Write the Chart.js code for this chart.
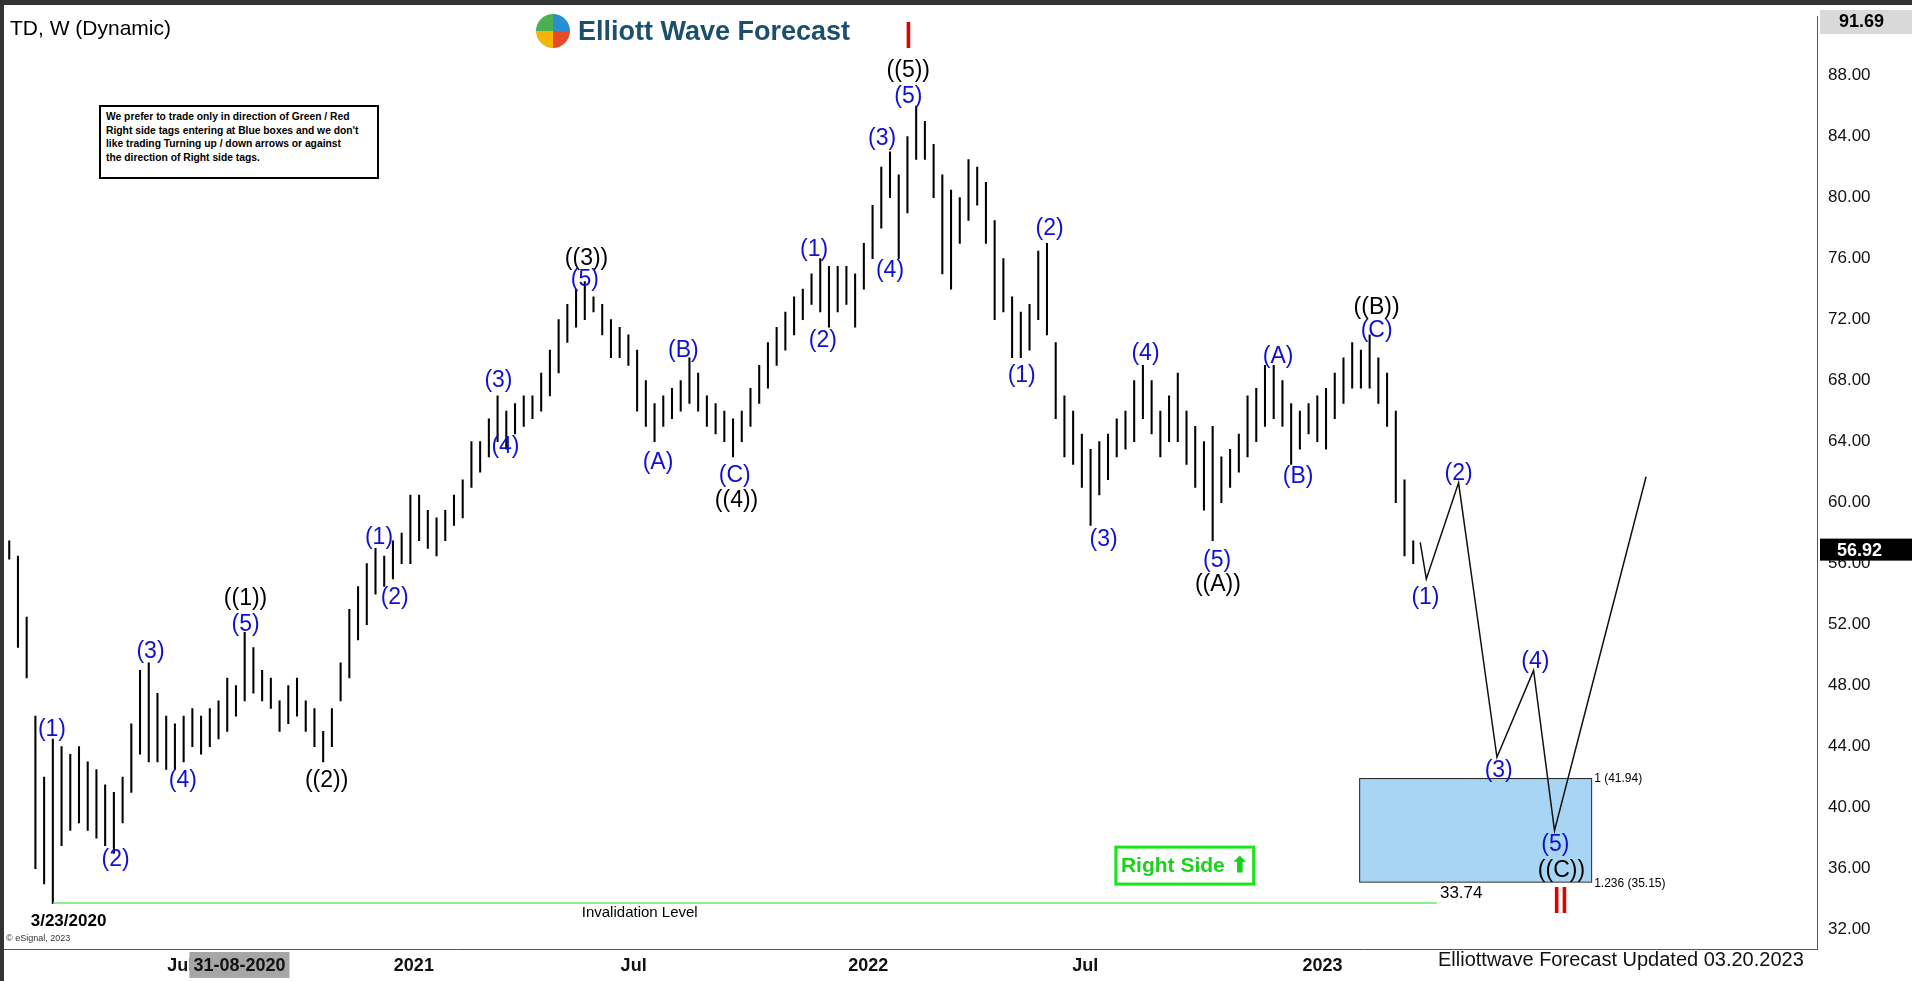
<!DOCTYPE html>
<html><head><meta charset="utf-8">
<script src="https://cdn.jsdelivr.net/npm/chart.js@4.4.1/dist/chart.umd.min.js"></script>
<style>
html,body{margin:0;padding:0;background:#fff;overflow:hidden}
#wrap{position:relative;width:1912px;height:981px}
canvas{display:block}
</style></head><body>
<div id="wrap"><canvas id="c" width="1912" height="981"></canvas></div>
<script>
// ---- data ----
const highs = [57.5,56.5,52.5,46.0,42.0,44.5,44.0,43.5,44.0,43.0,
42.5,41.5,41.0,42.0,45.5,49.0,49.5,47.5,46.0,45.5,
46.0,46.5,46.0,46.5,47.0,48.5,48.0,51.5,50.5,49.0,
48.5,47.0,48.0,48.5,47.0,46.5,45.0,46.5,49.5,53.0,
54.5,56.0,57.0,56.5,57.5,58.0,60.5,60.5,59.5,59.0,
59.5,60.5,61.5,64.0,64.0,65.5,67.0,66.0,66.5,67.0,
67.0,68.5,70.0,72.0,73.0,74.0,74.5,73.5,73.0,72.0,
71.5,71.0,70.0,68.0,66.5,67.0,67.5,68.0,69.5,68.5,
67.0,66.5,66.0,65.5,66.0,67.5,69.0,70.5,71.5,72.5,
73.5,74.0,75.0,76.0,75.5,75.5,75.5,75.0,77.0,79.5,
82.0,83.0,81.5,84.0,86.0,85.0,83.5,81.5,80.5,80.0,
82.5,82.0,81.0,78.5,76.0,73.5,72.5,73.0,76.5,77.0,
70.5,67.0,66.0,64.5,63.5,64.0,64.5,65.5,66.0,68.0,
69.0,68.0,66.0,67.0,68.5,66.0,65.0,64.0,65.0,63.0,
63.5,64.5,67.0,67.5,69.0,69.0,68.0,66.5,66.0,66.5,
67.0,67.5,68.5,69.5,70.5,70.0,71.0,69.5,68.5,66.0,61.5,57.5];
const lows = [56.3,50.5,48.5,36.0,35.0,33.7,37.5,38.5,39.0,38.5,
38.0,37.5,37.0,39.0,41.0,43.5,43.0,43.0,42.5,42.5,
43.0,44.0,43.5,44.0,44.5,45.0,46.0,47.0,47.5,47.0,
46.5,45.0,45.5,46.0,45.0,44.0,43.0,44.0,47.0,48.5,
51.0,52.0,54.0,54.5,55.0,56.0,56.0,57.5,57.0,56.5,
57.5,58.5,59.0,61.0,62.0,63.0,64.0,63.5,64.5,65.0,
65.5,66.0,67.0,68.5,70.5,71.5,72.0,72.5,71.0,69.5,
69.5,69.0,66.0,65.0,64.0,65.0,65.5,66.0,66.5,66.0,
65.0,64.5,64.0,63.0,64.0,65.0,66.5,67.5,69.0,70.0,
71.0,72.0,73.0,72.5,71.5,72.5,73.0,71.5,74.0,76.0,
78.0,80.0,76.0,79.0,82.5,82.5,80.0,75.0,74.0,77.0,
78.5,79.5,77.0,72.0,72.5,69.5,69.5,70.0,72.0,71.0,
65.5,63.0,62.5,61.0,58.5,60.5,61.5,63.0,63.5,64.0,
65.5,64.5,63.0,64.0,64.0,62.5,61.0,59.5,57.5,60.0,
61.0,62.0,63.0,64.0,65.0,65.5,65.0,62.5,63.5,64.5,
64.0,63.5,65.5,66.5,67.5,67.5,67.5,66.5,65.0,60.0,56.5,56.0];
const projX = [161.8,162.5,166.2,170.6,174.8,177.2,187.7];
const projY = [57.4,55.0,61.3,43.3,49.0,38.5,61.7];
const yTicks = [32,36,40,44,48,52,56,60,64,68,72,76,80,84,88];
const xTickPos = [19.6,26.4,46.4,71.6,98.5,123.4,150.6];
const xTickText = ["Jul","31-08-2020","2021","Jul","2022","Jul","2023"];
const waveX = [4.9,12.2,16.2,19.9,27.1,27.1,36.4,42.4,44.2,56.1,56.9,66.2,66.0,74.4,77.3,83.2,83.4,92.3,93.3,100.1,101.0,103.1,103.1,116.1,119.3,125.5,130.3,138.5,138.6,145.5,147.8,156.8,156.8,162.4,166.2,170.8,175.0,177.3,178.0];
const waveY = [45.1,36.6,50.2,41.8,53.7,52.0,41.8,57.7,53.8,68.0,63.7,76.0,74.6,62.6,70.0,61.8,60.1,76.6,70.6,83.9,75.2,86.6,88.3,68.3,78.0,57.6,69.8,56.2,54.6,69.6,61.7,72.8,71.3,53.8,61.9,42.4,49.6,37.6,35.9];
const waveText = ["(1)","(2)","(3)","(4)","((1))","(5)","((2))","(1)","(2)","(3)","(4)","((3))","(5)","(A)","(B)","(C)","((4))","(1)","(2)","(3)","(4)","(5)","((5))","(1)","(2)","(3)","(4)","(5)","((A))","(A)","(B)","((B))","(C)","(1)","(2)","(3)","(4)","(5)","((C))"];
const boxTop = 41.94, boxBottom = 35.15, boxX0 = 154.8, boxX1 = 181.4;
const invalidation = 33.74, invX0 = 5, invX1 = 163.7;
const lastPrice = 56.92, topPrice = 91.69;

const bars = highs.map((h,i)=>({x:i, y:[lows[i],h]}));
const proj = projX.map((x,i)=>({x, y:projY[i]}));

const overlay = {
  id:'overlay',
  beforeDatasetsDraw(chart){
    const {ctx, scales:{x,y}} = chart;
    ctx.save();
    ctx.fillStyle = '#a9d5f5';
    ctx.strokeStyle = '#222';
    ctx.lineWidth = 1;
    const bx0=x.getPixelForValue(boxX0), bx1=x.getPixelForValue(boxX1);
    const by0=y.getPixelForValue(boxTop), by1=y.getPixelForValue(boxBottom);
    ctx.fillRect(bx0,by0,bx1-bx0,by1-by0);
    ctx.strokeRect(bx0+0.5,by0+0.5,bx1-bx0,by1-by0);
    ctx.restore();
  },
  afterDatasetsDraw(chart){
    const {ctx, scales:{x,y}, chartArea:ca} = chart;
    ctx.save();
    ctx.textAlign='center'; ctx.textBaseline='middle';
    ctx.font = '23px "Liberation Sans", Arial, sans-serif';
    waveText.forEach((t,i)=>{
      ctx.fillStyle = t.startsWith('((') ? '#000' : '#1010d0';
      ctx.fillText(t, x.getPixelForValue(waveX[i]), y.getPixelForValue(waveY[i]));
    });
    ctx.fillStyle='#000'; ctx.textAlign='left';
    ctx.font='12px "Liberation Sans", Arial, sans-serif';
    ctx.fillText('1 (41.94)', x.getPixelForValue(boxX1)+3, y.getPixelForValue(boxTop)+1);
    ctx.fillText('1.236 (35.15)', x.getPixelForValue(boxX1)+3, y.getPixelForValue(boxBottom)+2);
    ctx.textAlign='center';
    ctx.font='15px "Liberation Sans", Arial, sans-serif';
    ctx.fillText('Invalidation Level', x.getPixelForValue(72.3), y.getPixelForValue(invalidation)+10);
    ctx.font='17px "Liberation Sans", Arial, sans-serif';
    ctx.fillText('33.74', x.getPixelForValue(166.5), y.getPixelForValue(invalidation)-10);
    ctx.font='bold 17px "Liberation Sans", Arial, sans-serif';
    ctx.fillText('3/23/2020', x.getPixelForValue(6.8), y.getPixelForValue(invalidation)+18);
    ctx.fillStyle='#e00000';
    ctx.font='bold 28px "Liberation Sans", Arial, sans-serif';
    ctx.fillText('|', x.getPixelForValue(103.1), 34);
    ctx.fillText('||', x.getPixelForValue(177.9), y.getPixelForValue(invalidation)-4);
    const rx0=x.getPixelForValue(126.9), rx1=x.getPixelForValue(142.7);
    const ry=y.getPixelForValue(invalidation)-56;
    ctx.strokeStyle='#19e619'; ctx.lineWidth=3;
    ctx.strokeRect(rx0,ry,rx1-rx0,37);
    ctx.fillStyle='#19d219';
    ctx.font='bold 21px "Liberation Sans", Arial, sans-serif';
    ctx.fillText('Right Side \u2B06', (rx0+rx1)/2, ry+19);
    const by = ca.bottom + 17;
    ctx.font='bold 18px "Liberation Sans", Arial, sans-serif';
    xTickPos.forEach((p,i)=>{
      const px=x.getPixelForValue(p);
      if(xTickText[i].includes('-')){
        const w=ctx.measureText(xTickText[i]).width;
        ctx.fillStyle='#a6a6a6'; ctx.fillRect(px-w/2-4, ca.bottom+3, w+8, 26);
      }
      ctx.fillStyle='#111'; ctx.fillText(xTickText[i], px, by);
    });
    ctx.textAlign='left';
    const ly = y.getPixelForValue(lastPrice);
    ctx.fillStyle='#000'; ctx.fillRect(ca.right+3, ly-11, 92, 22);
    ctx.fillStyle='#fff'; ctx.font='bold 18px "Liberation Sans", Arial, sans-serif';
    ctx.fillText(lastPrice.toFixed(2), ca.right+20, ly+1);
    ctx.fillStyle='#d9d9d9'; ctx.fillRect(ca.right+3, 10, 92, 24);
    ctx.fillStyle='#000'; ctx.fillText(topPrice.toFixed(2), ca.right+22, 22);
    ctx.restore();
  }
};

new Chart(document.getElementById('c'), {
  type:'bar',
  data:{datasets:[
    {type:'bar', data:bars, backgroundColor:'#000', barThickness:1.4, grouped:false, order:2},
    {type:'line', data:proj, borderColor:'#111', borderWidth:1.5, pointRadius:0, tension:0, order:1},
    {type:'line', data:[{x:invX0,y:invalidation},{x:invX1,y:invalidation}], borderColor:'#6be66b', borderWidth:1.5, pointRadius:0, order:1}
  ]},
  options:{
    responsive:false, animation:false,
    layout:{padding:{left:4,top:10,right:0,bottom:0}},
    plugins:{legend:{display:false},tooltip:{enabled:false}},
    scales:{
      x:{type:'linear', offset:false, min:-0.6, max:207.3, grid:{display:false, drawTicks:false, offset:false},
         border:{display:true,color:'#555'},
         ticks:{display:false},
         afterFit(s){s.height=32;}},
      y:{position:'right', min:30.73, max:91.9,
         grid:{display:false, drawTicks:true, tickLength:5, color:'#555'},
         border:{display:true,color:'#555'},
         afterBuildTicks(s){s.ticks=yTicks.map(v=>({value:v}));},
         ticks:{color:'#111', font:{family:'"Liberation Sans", Arial', size:17}, padding:6,
                callback:v=>Number(v).toFixed(2)},
         afterFit(s){s.width=95;}}
    }
  },
  plugins:[overlay]
});
</script>
<div style="position:absolute;left:0;top:0;width:1912px;height:5px;background:#333"></div>
<div style="position:absolute;left:0;top:0;width:4px;height:981px;background:#333"></div>
<div style="position:absolute;left:10px;top:16px;font:21px 'Liberation Sans',Arial">TD, W (Dynamic)</div>
<div style="position:absolute;left:536px;top:14px;display:flex;align-items:center;font:bold 27px 'Liberation Sans',Arial;color:#1c4f6e">
  <div style="width:34px;height:34px;border-radius:50%;background:conic-gradient(#2a8fd0 0 25%,#e84b2a 25% 50%,#f4b400 50% 75%,#4caf50 75%);margin-right:8px"></div>Elliott Wave Forecast</div>
<div style="position:absolute;left:99px;top:105px;width:266px;height:64px;border:2px solid #000;padding:3px 5px;font:bold 10.3px 'Liberation Sans',Arial;line-height:13.5px;background:#fff">We prefer to trade only in direction of Green / Red<br>Right side tags entering at Blue boxes and we don't<br>like trading Turning up / down arrows or against<br>the direction of Right side tags.</div>
<div style="position:absolute;left:6px;top:933px;font:9px 'Liberation Sans',Arial;color:#333">© eSignal, 2023</div>
<div style="position:absolute;left:1438px;top:948px;font:20px 'Liberation Sans',Arial;color:#111">Elliottwave Forecast Updated 03.20.2023</div>
</body></html>
